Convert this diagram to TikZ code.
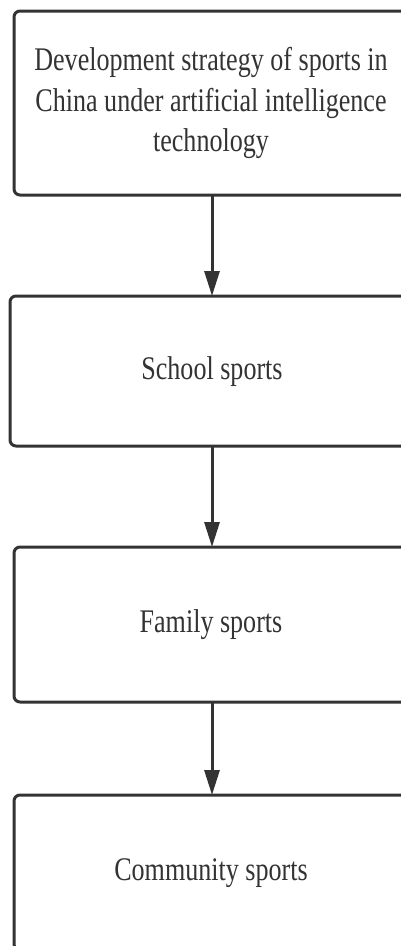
\documentclass[tikz,border=0pt]{standalone}
\usepackage{fontspec}
\usepackage{graphicx}
\setmainfont{Liberation Serif}
\usetikzlibrary{arrows.meta}
\definecolor{linec}{HTML}{333333}
\definecolor{textc}{HTML}{333333}
\newcommand{\boxlabel}[1]{\scalebox{0.79}[1]{\begin{tabular}{@{}c@{}}#1\end{tabular}}}
\begin{document}
\begin{tikzpicture}[x=1pt,y=1pt,
  flowbox/.style={draw=linec, line width=3pt, rounded corners=6pt, rectangle,
    inner sep=0pt, outer sep=0pt, text=textc,
    font=\fontsize{33}{40.5}\selectfont},
  flowarrow/.style={draw=linec, line width=3pt, -{Triangle[length=25pt,width=15pt]}}]
\useasboundingbox (0,0) rectangle (400,-946);
\node[flowbox, minimum width=394pt, minimum height=184pt] (b1) at (211,-103)
  {\boxlabel{Development strategy of sports in\\China under artificial intelligence\\technology}};
\node[flowbox, minimum width=404pt, minimum height=150pt] (b2) at (212,-371)
  {\boxlabel{School sports}};
\node[flowbox, minimum width=394pt, minimum height=155pt] (b3) at (211,-624.5)
  {\boxlabel{Family sports}};
\node[flowbox, minimum width=394pt, minimum height=155pt] (b4) at (211,-872.5)
  {\boxlabel{Community sports}};
\draw[flowarrow] (b1.south -| 212,0) -- (b2.north -| 212,0);
\draw[flowarrow] (b2.south -| 212,0) -- (b3.north -| 212,0);
\draw[flowarrow] (b3.south -| 212,0) -- (b4.north -| 212,0);
\end{tikzpicture}
\end{document}
